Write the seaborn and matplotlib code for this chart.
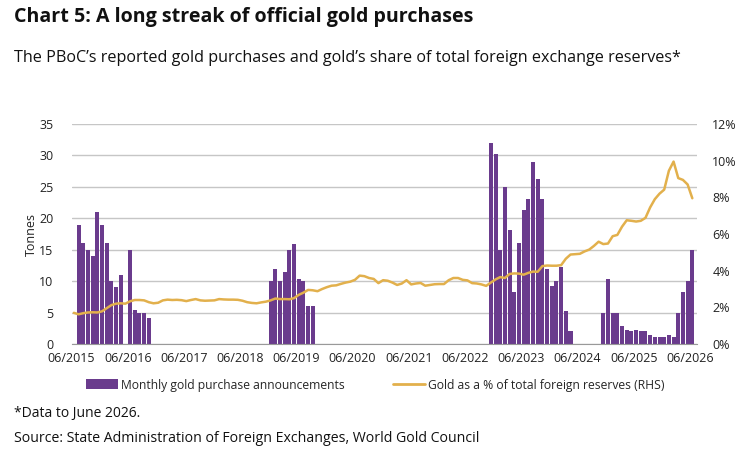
import numpy as np
import pandas as pd
import seaborn as sns
import matplotlib.pyplot as plt
from matplotlib.patches import Patch
from matplotlib.lines import Line2D

sns.set_style('white')
plt.rcParams['font.family'] = ['Open Sans', 'DejaVu Sans']

# monthly purchases (tonnes), each streak given with its first month
streak_2015_start = '2015-07'
streak_2015 = [19, 16, 15, 14, 21, 19, 16, 10, 9, 11]
streak_2016_start = '2016-06'
streak_2016 = [15, 5.4, 5, 5, 4.1]
streak_2018_start = '2018-12'
streak_2018 = [10, 11.9, 10, 11.4, 15, 15.9, 10.4, 10, 6, 6]
streak_2022_start = '2022-11'
streak_2022 = [32, 30.2, 15, 25, 18.2, 8.2, 16, 21.3, 23.1, 29, 26.2, 23.1,
               11.9, 9.2, 10, 12.3, 5.2, 2]
streak_2024_start = '2024-11'
streak_2024 = [5, 10.4, 5, 5, 2.9, 2.3, 2, 2.3, 2, 2, 1.4, 1.06, 1.06, 1.06,
               1.4, 1.06, 5, 8.3, 10, 15]

# gold as % of total FX reserves, 06/2015 .. 06/2026
gold_share = [
    1.70, 1.62, 1.68, 1.72, 1.73, 1.72, 1.78, 1.95, 2.12, 2.20, 2.22, 2.20,
    2.33, 2.40, 2.40, 2.38, 2.28, 2.22, 2.25, 2.38, 2.42, 2.40, 2.41, 2.39,
    2.34, 2.40, 2.45, 2.38, 2.36, 2.37, 2.38, 2.45, 2.43, 2.42, 2.42, 2.41,
    2.36, 2.28, 2.24, 2.22, 2.27, 2.31, 2.38, 2.48, 2.45, 2.45, 2.44, 2.50,
    2.68, 2.80, 2.95, 2.93, 2.88, 3.00, 3.10, 3.18, 3.20, 3.28, 3.35, 3.40,
    3.50, 3.73, 3.70, 3.60, 3.55, 3.32, 3.48, 3.45, 3.35, 3.22, 3.30, 3.48,
    3.25, 3.30, 3.33, 3.18, 3.22, 3.26, 3.27, 3.27, 3.48, 3.60, 3.60, 3.50,
    3.47, 3.32, 3.30, 3.25, 3.17, 3.35, 3.52, 3.65, 3.60, 3.82, 3.85, 3.84,
    3.78, 3.88, 3.95, 3.94, 4.25, 4.28, 4.27, 4.27, 4.30, 4.65, 4.88, 4.90,
    4.92, 5.05, 5.15, 5.35, 5.58, 5.45, 5.48, 5.88, 5.95, 6.40, 6.75, 6.72,
    6.68, 6.72, 6.88, 7.45, 7.90, 8.20, 8.42, 9.45, 9.95, 9.05, 8.95, 8.70,
    7.95,
]

tick_labels = ['06/%d' % y for y in range(2015, 2027)]

purple = '#6a3b8d'
gold = '#e2b04c'
grid_c = '#c6c6c6'
txt_c = '#222222'

# build the monthly table
months = pd.period_range('2015-06', '2026-06', freq='M')
df = pd.DataFrame({'month': months, 'pos': np.arange(len(months)),
                   'tonnes': 0.0, 'share': gold_share})
for start, vals in [(streak_2015_start, streak_2015), (streak_2016_start, streak_2016),
                    (streak_2018_start, streak_2018), (streak_2022_start, streak_2022),
                    (streak_2024_start, streak_2024)]:
    i0 = df.index[df['month'] == pd.Period(start, 'M')][0]
    df.loc[i0:i0 + len(vals) - 1, 'tonnes'] = vals

fig = plt.figure(figsize=(7.49, 4.67), dpi=100)
ax = fig.add_axes([71.5 / 749, 1 - 344 / 467, (697 - 71.5) / 749, 220 / 467])

sns.barplot(data=df, x='pos', y='tonnes', color=purple, saturation=1,
            width=0.86, linewidth=0, ax=ax, errorbar=None, zorder=2)
ax.set_xlim(-0.5, 133)
ax.set_ylim(0, 35)
ax.set_yticks(range(0, 36, 5))
ax.set_yticklabels([str(v) for v in range(0, 36, 5)])
ax.grid(axis='y', color=grid_c, lw=1)
ax.grid(axis='x', visible=False)
ax.set_axisbelow(True)
ax.set_xticks([12 * k - 0.5 for k in range(12)])
ax.set_xticklabels(tick_labels)
ax.set_xlabel('')
ax.set_ylabel('Tonnes', fontsize=9, color=txt_c, labelpad=1)
ax.tick_params(axis='x', length=4, color='#999999', labelsize=9, labelcolor=txt_c, pad=2)
ax.tick_params(axis='y', length=0, labelsize=9, labelcolor=txt_c, pad=13)
for s in ['left', 'right', 'top']:
    ax.spines[s].set_visible(False)
ax.spines['bottom'].set_color('#999999')

ax2 = ax.twinx()
sns.lineplot(data=df, x='pos', y='share', color=gold, lw=1.8, ax=ax2)
ax2.set_ylim(0, 12)
ax2.set_yticks(range(0, 13, 2))
ax2.set_yticklabels(['%d%%' % v for v in range(0, 13, 2)])
ax2.set_ylabel('')
ax2.tick_params(axis='y', length=0, labelsize=9, labelcolor=txt_c, pad=11)
for s in ['left', 'right', 'top', 'bottom']:
    ax2.spines[s].set_visible(False)
ax2.set_xlim(-0.5, 133)

fig.text(14 / 749, 1 - 17 / 467, 'Chart 5: A long streak of official gold purchases',
         fontsize=14.1, fontweight='bold', color='#111111', va='center')
fig.text(14 / 749, 1 - 58 / 467,
         'The PBoC\u2019s reported gold purchases and gold\u2019s share of total foreign exchange reserves*',
         fontsize=11.6, color='#111111', va='center')

handles = [Patch(facecolor=purple, edgecolor='none'),
           Line2D([], [], color=gold, lw=2)]
fig.legend(handles, ['Monthly gold purchase announcements',
                     'Gold as a % of total foreign reserves (RHS)'],
           loc='center', bbox_to_anchor=(375.5 / 749, 1 - 385 / 467), ncol=2,
           frameon=False, fontsize=8.7, handlelength=2.6, handleheight=0.9,
           handletextpad=0.3, columnspacing=4)

fig.text(14 / 749, 1 - 413 / 467, '*Data to June 2026.', fontsize=10,
         color='#111111', va='center')
fig.text(14 / 749, 1 - 439 / 467,
         'Source: State Administration of Foreign Exchanges, World Gold Council',
         fontsize=10.15, color='#111111', va='center')

fig.savefig('out.png', dpi=100)
